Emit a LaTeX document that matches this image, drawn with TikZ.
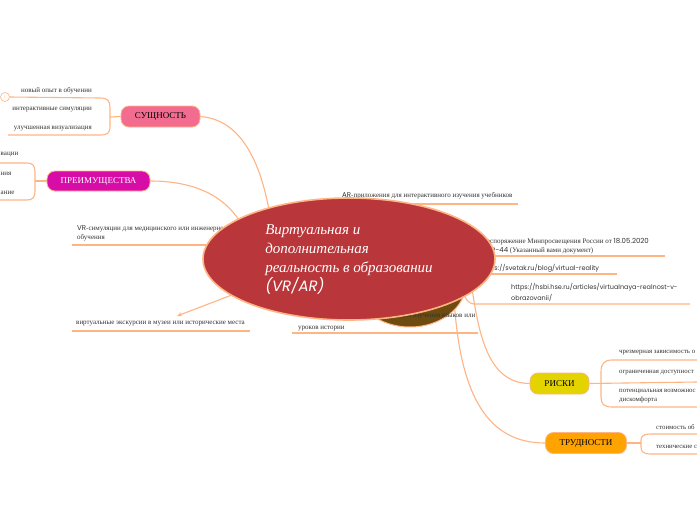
\documentclass[tikz,border=0pt]{standalone}
\usepackage{fontspec}
\setmainfont{Liberation Serif}
\newfontfamily\pop{Poppins}
\usetikzlibrary{arrows.meta,shapes.geometric}
\definecolor{lineC}{HTML}{FFB483}
\definecolor{ellC}{HTML}{B9363A}
\definecolor{brownC}{HTML}{6E4B0F}
\definecolor{pinkC}{HTML}{F26C90}
\definecolor{magC}{HTML}{D80DA8}
\definecolor{yelC}{HTML}{E3D400}
\definecolor{oraC}{HTML}{FFA300}
\definecolor{txtC}{HTML}{333333}
\begin{document}
\begin{tikzpicture}[x=1pt,y=-1pt,
  conn/.style={draw=lineC,line width=1.1pt},
  txt/.style={font=\fontsize{7}{9.5}\selectfont, text=txtC, inner sep=0pt, align=left},
  topic/.style={rounded corners=8pt, draw=lineC, line width=0.8pt, minimum height=21pt,
     font=\fontsize{9}{10}\selectfont, inner sep=0pt}]
\useasboundingbox (0,0) rectangle (697,520);
\fill[white] (0,0) rectangle (697,520);

% ---------- text nodes ----------
\node[txt,anchor=east] (s1) at (92,91) {новый опыт в обучении};
\node[txt,anchor=east] (s2) at (92,110) {интерактивные симуляции};
\node[txt,anchor=east] (s3) at (92,129) {улучшенная визуализация};

\node[txt,anchor=west] (p1) at (0.5,155) {вации};
\node[txt,anchor=west] (p2) at (0.5,174) {ния};
\node[txt,anchor=west] (p3) at (0.5,193) {ание};

\node[txt,anchor=west] (ar) at (342,196) {{\pop AR}-приложения для интерактивного изучения учебников};
\node[txt,anchor=west] (vr) at (77,233.5) {{\pop VR}-симуляции для медицинского или инженерного\\обучения};
\node[txt,anchor=west] (ex) at (76,324) {виртуальные экскурсии в музеи или исторические места};
\node[txt,anchor=west] (rs) at (483,246) {Распоряжение Минпросвещения России от {\pop 18.05.2020}\\№ Р{\pop -44} (Указанный вами документ)};
\node[txt,anchor=west,font=\pop\fontsize{6.5}{9.5}\selectfont] (sv) at (481,268) {https://svetak.ru/blog/virtual-reality};
\node[txt,anchor=west,font=\pop\fontsize{6.5}{11}\selectfont] (hs) at (511,292.5) {https://hsbi.hse.ru/articles/virtualnaya-realnost-v-\\obrazovanii/};

\node[txt,anchor=west,font=\fontsize{6.8}{9.5}\selectfont] (r1) at (619,353) {чрезмерная зависимость о};
\node[txt,anchor=west,font=\fontsize{6.8}{9.5}\selectfont] (r2) at (619,373) {ограниченная доступност};
\node[txt,anchor=west,font=\fontsize{6.8}{9.5}\selectfont] (r3) at (619,396) {потенциальная возможнос\\дискомфорта};

\node[txt,anchor=west,font=\fontsize{6.8}{9.5}\selectfont] (d1) at (656,427) {стоимость об};
\node[txt,anchor=west,font=\fontsize{6.8}{9.5}\selectfont] (d2) at (656,447) {технические с};

% ---------- topic nodes ----------
\node[topic,fill=pinkC,minimum width=79pt] (sush) at (160.5,116.5) {СУЩНОСТЬ};
\node[topic,fill=magC,text=white,minimum width=103pt,minimum height=20pt] (prei) at (98.5,181) {ПРЕИМУЩЕСТВА};
\node[topic,fill=yelC,minimum width=59pt] (risk) at (559.5,383.5) {РИСКИ};
\node[topic,fill=oraC,minimum width=81pt] (trud) at (586,443) {ТРУДНОСТИ};

% collapsed marker
\node[circle,draw=lineC,fill=white,line width=0.6pt,minimum size=9pt,inner sep=0pt,
      font=\fontsize{4}{4}\selectfont,text=lineC] (col) at (5,97) {1};

% ---------- connectors ----------
\draw[conn] (sush.west) -- (110,117);
\draw[conn] (col.east) -- (100,98) .. controls (108,98) and (110,101) .. (110,108)
   -- (110,126) .. controls (110,133) and (108,135) .. (100,135) -- (8,135);
\draw[conn] (prei.west) -- (35,181);
\draw[conn] (0,163) -- (27,163) .. controls (33,163) and (35,166) .. (35,172)
   -- (35,191) .. controls (35,197) and (33,200) .. (27,200) -- (0,200);
\draw[conn] (risk.east) -- (697,382);
\draw[conn] (697,360) -- (612,360) .. controls (604,360) and (601,364) .. (601,372)
   -- (601,397) .. controls (601,404) and (604,407) .. (612,407) -- (697,407);
\draw[conn] (trud.east) -- (641,443);
\draw[conn] (697,434) -- (650,434) .. controls (644,434) and (641,436) .. (641,440)
   -- (641,447) .. controls (641,452) and (644,454) .. (650,454) -- (697,454);

\draw[conn] (sush.east) .. controls (245,120) and (262,170) .. (270,215);
\draw[conn] (prei.east) .. controls (200,181) and (228,200) .. (242,225);
\draw[conn] (risk.west) .. controls (492,383) and (480,345) .. (472,288);
\draw[conn] (trud.west) .. controls (490,443) and (460,400) .. (454,298);
\draw[conn,-{Stealth[length=5pt,width=4pt]}] (250,288) -- (177,316);
\draw[conn] (340,204) -- (518,204);
\draw[conn] (72,245) -- (230,245);
\draw[conn] (72,331) -- (250,331);
\draw[conn] (460,256) -- (665,256);
\draw[conn] (460,274) -- (617,274);
\draw[conn] (465,297) .. controls (468,302) and (470,304) .. (475,304) -- (690,304);
\draw[conn] (292,333) -- (478,333);

% ---------- hidden node, its text, and main topic ----------
\node[ellipse,minimum width=112pt,minimum height=88pt,fill=brownC,draw=lineC,line width=1pt] (lang) at (410,283) {};
\node[txt,anchor=west,font=\fontsize{7}{12}\selectfont] (lg) at (298,322) {Геймифицированные приложения для изучения языков или\\уроков истории};
\node[ellipse,minimum width=292pt,minimum height=122pt,inner sep=0pt,fill=ellC,draw=lineC,line width=1.6pt,
      text=white,align=left,font=\fontsize{15}{19}\selectfont\itshape] (main) at (349,259)
  {Виртуальная и\\дополнительная\\реальность в образовании\\{\pop\itshape (VR/AR)}};
\end{tikzpicture}
\end{document}
